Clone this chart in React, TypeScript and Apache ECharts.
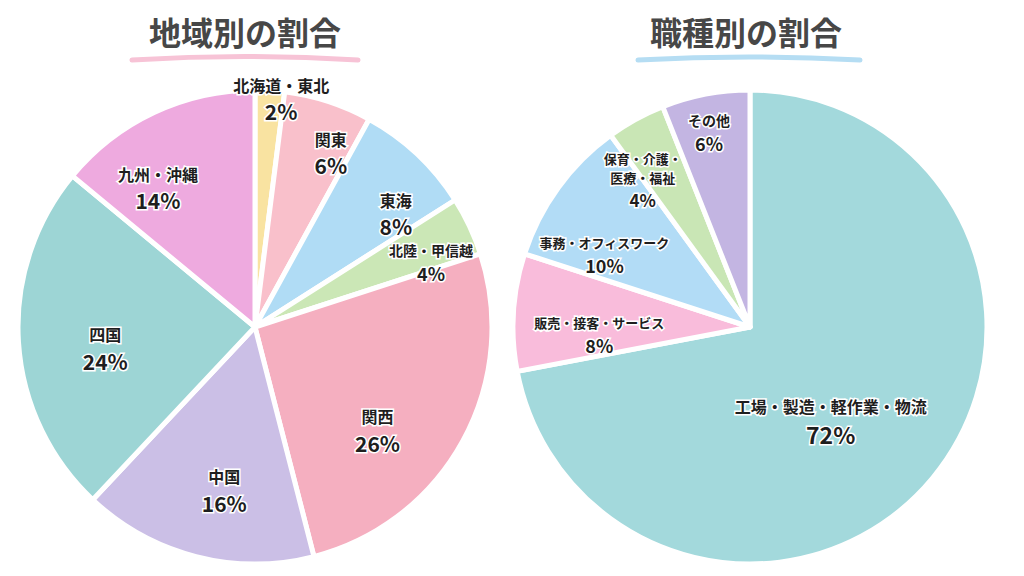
import React, { useEffect, useRef } from 'react';
import * as echarts from 'echarts';

// 地域別
const regionNames = ['北海道・東北', '関東', '東海', '北陸・甲信越', '関西', '中国', '四国', '九州・沖縄'];
const regionShares = [2, 6, 8, 4, 26, 16, 24, 14];
const regionColors = ['#f9e3a1', '#f9c0cb', '#b0dcf5', '#cbe7b6', '#f5afc0', '#cbbfe6', '#9dd5d5', '#eeaadf'];

// 職種別
const jobNames = ['工場・製造・軽作業・物流', '販売・接客・サービス', '事務・オフィスワーク', '保育・介護・\n医療・福祉', 'その他'];
const jobShares = [72, 8, 10, 4, 6];
const jobColors = ['#a3d9dc', '#f9bcdb', '#b2dcf6', '#c9e6b5', '#c3b5e2'];

// ラベルの見た目（名前の文字サイズ、％の文字サイズ、中心からの距離、微調整）
const regionNameSize = [16, 16, 16, 14, 16, 16, 16, 16];
const regionPctSize = [21, 21, 21, 18, 21, 21, 21, 21];
const regionLabelRadius = [226, 188, 180, 186, 160, 167, 152, 170];
const regionNudge = [[12, -2], [18, 5], [18, 19], [8, 15], [-18, 27], [11, 2], [2, 13], [-25, 15]];
const jobNameSize = [16, 13, 13, 13, 14];
const jobPctSize = [23, 18, 18, 17, 18];
const jobLabelRadius = [125, 151, 163, 182, 198];
const jobNudge = [[-16, 16], [0, 18], [-14, 24], [-20, 13], [-4, 0]];

const FONT = '"Noto Sans CJK JP", "Noto Sans", sans-serif';
const LEFT_CENTER = [255, 327];
const RIGHT_CENTER = [750, 327];
const RADIUS = 237;

function richFor(nameSize: number, pctSize: number) {
  const base = {
    color: '#1e1e1e',
    fontFamily: FONT,
    fontWeight: 'bold' as const,
    textBorderColor: '#ffffff',
    textBorderWidth: 3,
    align: 'center' as const,
  };
  return {
    n: { ...base, fontSize: nameSize, lineHeight: Math.round(nameSize * 1.45) },
    p: { ...base, fontSize: pctSize, lineHeight: Math.round(pctSize * 1.45) },
  };
}

function buildData(names: string[], values: number[], colors: string[], nameSize: number[], pctSize: number[]) {
  return names.map((name, i) => ({
    name,
    value: values[i],
    itemStyle: { color: colors[i] },
    label: { rich: richFor(nameSize[i], pctSize[i]) },
  }));
}

// 内側ラベルを中心から指定距離へ押し出し、少しずらす
function pushOut(center: number[], radii: number[], nudge: number[][]) {
  return (params: any) => {
    const r = params.labelRect;
    const vx = r.x + r.width / 2 - center[0];
    const vy = r.y + r.height / 2 - center[1];
    const len = Math.hypot(vx, vy) || 1;
    const k = radii[params.dataIndex] / len - 1;
    const [nx, ny] = nudge[params.dataIndex];
    return { dx: vx * k + nx, dy: vy * k + ny };
  };
}

function pieSeries(center: number[], data: any[], radii: number[], nudge: number[][]) {
  return {
    type: 'pie',
    center,
    radius: [0, RADIUS],
    startAngle: 90,
    clockwise: true,
    silent: true,
    data,
    itemStyle: { borderColor: '#ffffff', borderWidth: 5 },
    label: {
      show: true,
      position: 'inside',
      formatter: '{n|{b}}\n{p|{c}%}',
    },
    labelLine: { show: false },
    labelLayout: pushOut(center, radii, nudge),
    emphasis: { disabled: true },
  };
}

function PieCharts() {
  const chartRef = useRef<HTMLDivElement | null>(null);

  useEffect(() => {
    if (!chartRef.current) return undefined;
    const chart = echarts.init(chartRef.current, null, { renderer: 'svg' });

    const option = {
      animation: false,
      backgroundColor: '#ffffff',
      graphic: [
        {
          type: 'text',
          x: 245,
          y: 31,
          style: {
            text: '地域別の割合',
            fontFamily: FONT,
            fontSize: 32,
            fontWeight: 'bold',
            fill: '#474747',
            textAlign: 'center',
            textVerticalAlign: 'middle',
          },
        },
        {
          type: 'bezierCurve',
          shape: { x1: 132, y1: 60, x2: 358, y2: 60, cpx1: 245, cpy1: 53 },
          style: { stroke: '#f7c3d6', lineWidth: 5, lineCap: 'round', fill: 'none' },
        },
        {
          type: 'text',
          x: 746,
          y: 31,
          style: {
            text: '職種別の割合',
            fontFamily: FONT,
            fontSize: 32,
            fontWeight: 'bold',
            fill: '#474747',
            textAlign: 'center',
            textVerticalAlign: 'middle',
          },
        },
        {
          type: 'bezierCurve',
          shape: { x1: 638, y1: 60, x2: 860, y2: 60, cpx1: 749, cpy1: 54 },
          style: { stroke: '#b5ddf3', lineWidth: 5, lineCap: 'round', fill: 'none' },
        },
      ],
      series: [
        pieSeries(
          LEFT_CENTER,
          buildData(regionNames, regionShares, regionColors, regionNameSize, regionPctSize),
          regionLabelRadius,
          regionNudge,
        ),
        pieSeries(
          RIGHT_CENTER,
          buildData(jobNames, jobShares, jobColors, jobNameSize, jobPctSize),
          jobLabelRadius,
          jobNudge,
        ),
      ],
    };

    chart.setOption(option);

    const onResize = () => chart.resize();
    window.addEventListener('resize', onResize);
    return () => {
      window.removeEventListener('resize', onResize);
      chart.dispose();
    };
  }, []);

  return (
    <div
      ref={chartRef}
      style={{ position: 'fixed', left: 0, top: 0, width: '1024px', height: '576px' }}
    />
  );
}

export default function App() {
  return <PieCharts />;
}
